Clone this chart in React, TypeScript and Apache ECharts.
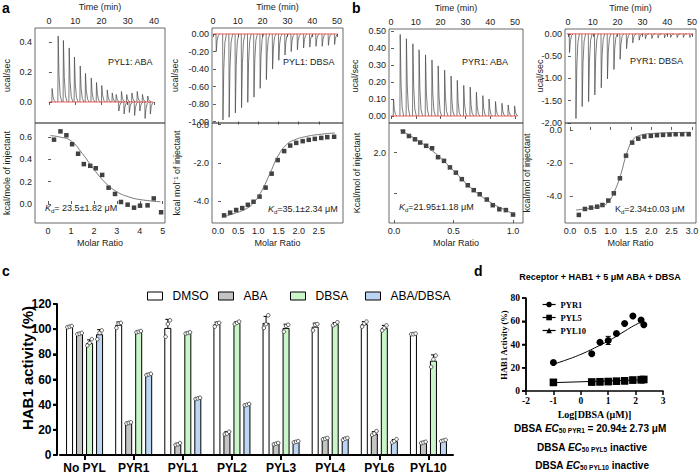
import React, { useEffect, useRef } from "react";
import * as echarts from "echarts";

const SANS = "'Liberation Sans', Arial, Helvetica, sans-serif";
const SERIF = "'Liberation Serif', 'Times New Roman', serif";

// ===== Panel a, PYL1 + ABA =====
const aAbaInjTime = [1.1, 3.4, 5.4, 7.6, 9.6, 11.8, 13.8, 16.0, 18.0, 20.0, 22.1, 24.0, 25.5, 26.5, 27.5, 28.5, 29.5, 30.5, 31.5, 32.5, 33.5, 34.5, 35.5, 36.5, 37.5, 38.5];
const aAbaPeak = [0.09, 0.44, 0.41, 0.36, 0.30, 0.24, 0.19, 0.16, 0.13, 0.11, 0.08, 0.06, 0.05, -0.06, 0.07, -0.08, 0.05, -0.07, 0.06, -0.09, 0.07, -0.06, 0.05, -0.11, 0.04, -0.08];
const aAbaRatio = [0.26, 0.54, 0.80, 1.05, 1.31, 1.56, 1.84, 2.08, 2.36, 2.64, 2.92, 3.18, 3.47, 3.75, 4.01, 4.34, 4.61, 4.93];
const aAbaHeat = [0.576, 0.65, 0.615, 0.535, 0.45, 0.357, 0.342, 0.32, 0.26, 0.146, 0.09, 0.018, -0.006, -0.033, -0.015, -0.012, 0.05, -0.074];
const aAbaFitRatio = [0.1, 0.5, 1.0, 1.5, 2.0, 2.5, 3.0, 3.5, 4.0, 4.9];
const aAbaFitHeat = [0.612, 0.60, 0.565, 0.45, 0.31, 0.19, 0.11, 0.065, 0.04, 0.02];

// ===== Panel a, PYL1 + DBSA =====
const aDbsaInjTime = [1.2, 3.9, 6.4, 8.9, 11.4, 13.9, 16.4, 18.9, 21.4, 23.9, 26.4, 28.9, 31.4, 33.9, 36.4, 38.9, 41.4, 43.9, 46.4, 48.9];
const aDbsaPeak = [-0.20, -0.98, -0.95, -0.90, -0.84, -0.78, -0.72, -0.62, -0.52, -0.40, -0.30, -0.24, -0.20, -0.18, -0.16, -0.15, -0.14, -0.14, -0.13, -0.12];
const aDbsaRatio = [0.15, 0.30, 0.45, 0.60, 0.74, 0.88, 1.03, 1.18, 1.33, 1.48, 1.64, 1.79, 1.94, 2.10, 2.25, 2.40, 2.56, 2.71, 2.88];
const aDbsaHeat = [-4.75, -4.61, -4.47, -4.37, -4.20, -4.04, -3.77, -3.30, -2.57, -1.86, -1.39, -1.10, -0.96, -0.87, -0.80, -0.75, -0.70, -0.66, -0.64];
const aDbsaFitRatio = [0.1, 0.4, 0.7, 0.9, 1.1, 1.3, 1.5, 1.7, 1.9, 2.2, 2.5, 2.9];
const aDbsaFitHeat = [-4.85, -4.65, -4.4, -4.05, -3.4, -2.5, -1.6, -1.05, -0.8, -0.62, -0.52, -0.44];

// ===== Panel b, PYR1 + ABA =====
const bAbaInjTime = [0.9, 3.6, 6.1, 8.7, 11.2, 13.8, 16.4, 18.9, 21.5, 24.1, 26.6, 29.2, 31.8, 34.3, 36.9, 39.4, 42.0, 44.6, 47.1, 49.7];
const bAbaPeak = [0.10, 0.48, 0.455, 0.425, 0.39, 0.36, 0.33, 0.295, 0.27, 0.235, 0.21, 0.18, 0.17, 0.14, 0.12, 0.10, 0.085, 0.075, 0.065, 0.06];
const bAbaRatio = [0.076, 0.126, 0.176, 0.22, 0.27, 0.32, 0.37, 0.42, 0.47, 0.52, 0.57, 0.62, 0.67, 0.72, 0.78, 0.83, 0.885, 0.94, 1.0];
const bAbaHeat = [2.52, 2.41, 2.33, 2.25, 2.17, 2.11, 1.89, 1.80, 1.64, 1.51, 1.35, 1.20, 1.08, 0.98, 0.85, 0.71, 0.61, 0.59, 0.48];
const bAbaFitRatio = [0.05, 0.2, 0.35, 0.5, 0.65, 0.8, 0.95, 1.02];
const bAbaFitHeat = [2.56, 2.30, 1.98, 1.56, 1.13, 0.80, 0.57, 0.48];

// ===== Panel b, PYR1 + DBSA =====
const bDbsaInjTime = [0.5, 3.1, 5.6, 8.2, 10.7, 13.3, 15.8, 18.4, 20.9, 23.5, 26.0, 28.6, 31.1, 33.7, 36.2, 38.8, 41.3, 43.9, 46.4, 49.0];
const bDbsaPeak = [-0.42, -1.90, -1.63, -1.52, -1.37, -1.21, -1.01, -0.80, -0.57, -0.33, -0.20, -0.14, -0.11, -0.10, -0.09, -0.09, -0.08, -0.08, -0.08, -0.08];
const bDbsaRatio = [0.22, 0.37, 0.52, 0.67, 0.80, 0.945, 1.08, 1.23, 1.38, 1.53, 1.68, 1.83, 1.99, 2.14, 2.29, 2.45, 2.60, 2.76, 2.92];
const bDbsaHeat = [-5.15, -4.79, -4.71, -4.65, -4.55, -4.28, -3.84, -2.93, -1.56, -0.77, -0.53, -0.40, -0.36, -0.32, -0.30, -0.28, -0.26, -0.26, -0.26];
const bDbsaFitRatio = [0.15, 0.5, 0.8, 0.95, 1.1, 1.25, 1.4, 1.55, 1.7, 2.0, 2.5, 2.95];
const bDbsaFitHeat = [-4.85, -4.75, -4.6, -4.35, -3.7, -2.7, -1.4, -0.6, -0.35, -0.22, -0.17, -0.14];

// ===== Panel c =====
const hab1Categories = ["No PYL", "PYR1", "PYL1", "PYL2", "PYL3", "PYL4", "PYL6", "PYL10"];
const treatmentNames = ["DMSO", "ABA", "DBSA", "ABA/DBSA"];
const hab1Ticks = [0, 20, 40, 60, 80, 100, 120];
const dmsoMean = [102, 103.5, 101, 104, 105, 102, 104, 96];
const abaMean = [96.5, 25.5, 8.5, 17.5, 9, 13, 17, 10];
const dbsaMean = [89, 98, 97, 105, 101, 104, 101, 75];
const comboMean = [96, 64, 45, 40, 10.5, 13, 11, 11.5];
const dmsoReps = [[101.5, 102, 102.5], [101, 104.5, 105], [94, 104, 107], [102, 104.5, 105], [101, 104, 111], [99, 103.5, 104], [102, 104.5, 106], [96, 96, 96.5]];
const abaReps = [[96, 96.5, 97], [25, 25.5, 26], [8, 8.5, 9.5], [16.5, 17, 18.5], [8.5, 9, 9.5], [12.5, 13, 13.5], [16, 17, 19], [9.5, 10, 10.5]];
const dbsaReps = [[87, 89, 92], [97.5, 98, 98.5], [96.5, 97, 97.5], [104, 105, 106], [98, 102.5, 103.5], [103, 104, 105.5], [99, 101, 103], [70, 76, 79]];
const comboReps = [[92, 97, 99], [63.5, 64, 64.5], [44.5, 45, 45.5], [39.5, 40, 40.5], [10, 10.5, 11], [12, 13, 13.5], [10, 11, 12.5], [11, 11.5, 12]];
const treatmentColors = ["#ffffff", "#c4c4c4", "#c9f5c9", "#bcd5f2"];

// ===== Panel d =====
const dLogTicks = [-2, -1, 0, 1, 2, 3];
const dActivityTicks = [0, 20, 40, 60, 80];
const dLogDbsa = [-1, 0.4, 0.7, 1.0, 1.3, 1.6, 1.9, 2.2, 2.3];
const pyr1Activity = [24.5, 32, 42, 43.5, 49.5, 58, 64.5, 61, 57];
const pyr1Sd = [0.8, 0.8, 1.0, 3.5, 1.0, 1.0, 1.0, 1.2, 0.8];
const pyl5Activity = [7.5, 7.8, 8, 8.2, 8.5, 8.8, 9.5, 9.8, 10];
const pyl10Activity = [7.2, 7.5, 7.8, 7.9, 8.2, 8.5, 9.2, 9.5, 9.7];
const pyr1FitLog = [-1, -0.5, 0, 0.5, 1.0, 1.5, 2.0, 2.3];
const pyr1FitActivity = [23, 27, 31.5, 37, 43, 50, 57, 60];
const pyl5FitLog = [-1, 2.3];
const pyl5FitActivity = [7.2, 9.6];

// grid boxes of panels c and d
const C_BOX = { left: 60, top: 304, width: 393, height: 151, min: 0, max: 120, offset: 3 };
const D_BOX = { left: 526, top: 298, width: 137, height: 93, min: 0, max: 80, offset: 0 };

const zip = (a: number[], b: number[]) => a.map((v, i) => [v, b[i]]);
const sdOf = (arr: number[]) => {
  const m = arr.reduce((s, v) => s + v, 0) / arr.length;
  return Math.sqrt(arr.reduce((s, v) => s + (v - m) * (v - m), 0) / (arr.length - 1));
};

function itcAxis(gridIndex: number, min: number, max: number, ticks: number[], fmt: (v: number) => string, position: string, extra: any = {}) {
  return {
    type: "value", gridIndex, min, max, position,
    axisLine: { show: false },
    axisTick: { show: true, inside: true, length: 3, customValues: ticks, lineStyle: { color: "#333", width: 0.8 } },
    axisLabel: { show: true, customValues: ticks, formatter: fmt, fontSize: 9, color: "#222", fontFamily: SANS, margin: 3 },
    splitLine: { show: false },
    nameMoveOverlap: false,
    nameTextStyle: { fontSize: 9, fontFamily: SANS, color: "#222" },
    ...extra,
  };
}

function addItc(p: any, opt: any) {
  const gU = opt.grid.length;
  const gL = gU + 1;
  const gridStyle = { show: true, borderColor: "#444", borderWidth: 0.8, backgroundColor: "transparent", outerBoundsMode: "none", containLabel: false };
  opt.grid.push({ left: p.left, top: p.top, width: p.width, height: p.split - p.top, ...gridStyle });
  opt.grid.push({ left: p.left, top: p.split, width: p.width, height: p.bottom - p.split, ...gridStyle });
  opt.xAxis.push(itcAxis(gU, p.time[0], p.time[1], p.timeTicks, (v) => String(v), "top", { name: "Time (min)", nameLocation: "middle", nameGap: 17 }));
  opt.xAxis.push(itcAxis(gL, p.ratio[0], p.ratio[1], p.ratioTicks, (v) => v.toFixed(p.ratioDec), "bottom", { name: "Molar Ratio", nameLocation: "middle", nameGap: 15 }));
  opt.yAxis.push(itcAxis(gU, p.power[0], p.power[1], p.powerTicks, (v) => v.toFixed(p.powerDec), "left", { name: "ucal/sec", nameLocation: "middle", nameGap: p.powerGap }));
  opt.yAxis.push(itcAxis(gL, p.heat[0], p.heat[1], p.heatTicks, p.heatFmt || ((v: number) => v.toFixed(p.heatDec)), "left", { name: p.heatName, nameLocation: "middle", nameGap: p.heatGap }));
  opt.series.push({
    type: "custom", xAxisIndex: gU, yAxisIndex: gU, clip: true, silent: true, z: 2,
    data: zip(p.inj, p.peak),
    renderItem: (params: any, api: any) => {
      const t = api.value(0);
      const h = api.value(1);
      const pts = [[t, 0], [t + 0.12, h], [t + 0.45, h * 0.4], [t + 0.9, h * 0.1], [t + 1.5, 0]].map((q) => api.coord(q));
      return { type: "polyline", shape: { points: pts }, style: { stroke: "#444", fill: "none", lineWidth: 0.7 } };
    },
  });
  opt.series.push({
    type: "line", xAxisIndex: gU, yAxisIndex: gU, symbol: "none", silent: true, z: 3,
    data: [[p.inj[0] - 1, 0], [p.inj[p.inj.length - 1] + 1.2, 0]],
    lineStyle: { color: "#e8322e", width: 0.8 },
  });
  opt.series.push({
    type: "line", xAxisIndex: gL, yAxisIndex: gL, symbol: "none", smooth: true, silent: true,
    data: zip(p.fit[0], p.fit[1]), lineStyle: { color: "#555", width: 0.8 },
  });
  opt.series.push({
    type: "scatter", xAxisIndex: gL, yAxisIndex: gL, symbol: "rect", symbolSize: 4.5, silent: true,
    data: zip(p.pts[0], p.pts[1]), itemStyle: { color: "#111" },
  });
}

function barErrRender(offset: number) {
  return (params: any, api: any) => {
    const i = api.value(0);
    const m = api.value(1);
    const sd = api.value(2);
    const base = api.coord([i, m]);
    const x = base[0] + offset;
    const yTop = api.coord([i, m + sd])[1];
    const children: any[] = [
      { type: "line", shape: { x1: x, y1: base[1], x2: x, y2: yTop }, style: { stroke: "#000", lineWidth: 1 } },
      { type: "line", shape: { x1: x - 2.5, y1: yTop, x2: x + 2.5, y2: yTop }, style: { stroke: "#000", lineWidth: 1 } },
    ];
    [3, 4, 5].forEach((k, j) => {
      const y = api.coord([i, api.value(k)])[1];
      children.push({ type: "circle", shape: { cx: x + (j - 1) * 2.2, cy: y, r: 1.8 }, style: { fill: "#fff", stroke: "#333", lineWidth: 0.8 } });
    });
    return { type: "group", children };
  };
}

function buildOption() {
  const opt: any = { animation: false, backgroundColor: "#fff", grid: [], xAxis: [], yAxis: [], series: [], legend: [], graphic: [] };

  // ===== Panel c (grid 0) =====
  const gc = opt.grid.length;
  opt.grid.push({ left: C_BOX.left, top: C_BOX.top, width: C_BOX.width, height: C_BOX.height, outerBoundsMode: "none", containLabel: false });
  opt.xAxis.push({
    type: "category", gridIndex: gc, data: hab1Categories, position: "bottom",
    axisLine: { show: true, lineStyle: { color: "#000", width: 2 } },
    axisTick: { show: true, alignWithLabel: true, length: 5, lineStyle: { color: "#000", width: 2 } },
    axisLabel: { show: true, interval: 0, fontSize: 12, fontWeight: "bold", color: "#000", fontFamily: SANS, margin: 7 },
    splitLine: { show: false },
  });
  opt.yAxis.push({
    type: "value", gridIndex: gc, min: C_BOX.min, max: C_BOX.max, offset: C_BOX.offset, position: "left",
    axisLine: { show: true, lineStyle: { color: "#000", width: 2 } },
    axisTick: { show: true, length: 4, customValues: hab1Ticks, lineStyle: { color: "#000", width: 2 } },
    axisLabel: { show: false },
    splitLine: { show: false },
  });
  const means = [dmsoMean, abaMean, dbsaMean, comboMean];
  const reps = [dmsoReps, abaReps, dbsaReps, comboReps];
  treatmentNames.forEach((name, k) => {
    opt.series.push({
      type: "bar", name, xAxisIndex: gc, yAxisIndex: gc, barWidth: 7, barGap: "43%",
      data: means[k], itemStyle: { color: treatmentColors[k], borderColor: "#000", borderWidth: 1 }, silent: true,
    });
  });
  treatmentNames.forEach((name, k) => {
    opt.series.push({
      type: "custom", xAxisIndex: gc, yAxisIndex: gc, silent: true, z: 5,
      encode: { x: 0, y: 1 },
      data: hab1Categories.map((_, i) => [i, means[k][i], sdOf(reps[k][i]), ...reps[k][i]]),
      renderItem: barErrRender(-15 + 10 * k),
    });
  });
  const legendLefts = [142, 213, 285, 360];
  treatmentNames.forEach((name, k) => {
    opt.legend.push({
      data: [name], left: legendLefts[k], top: 285, icon: "rect", itemWidth: 15, itemHeight: 8,
      itemStyle: { borderColor: "#000", borderWidth: 1 },
      textStyle: { fontSize: 12, color: "#000", fontFamily: SANS, padding: [0, 0, 0, 5] },
      selectedMode: false,
    });
  });

  // ===== Panel d (grid 1) =====
  const gd = opt.grid.length;
  opt.grid.push({ left: D_BOX.left, top: D_BOX.top, width: D_BOX.width, height: D_BOX.height, outerBoundsMode: "none", containLabel: false });
  opt.xAxis.push({
    type: "value", gridIndex: gd, min: -2, max: 3, position: "bottom",
    axisLine: { show: true, onZero: false, lineStyle: { color: "#000", width: 1.5 } },
    axisTick: { show: true, length: 4, customValues: dLogTicks, lineStyle: { color: "#000", width: 1.5 } },
    axisLabel: { show: true, customValues: dLogTicks, formatter: (v: number) => String(v), fontSize: 9.5, fontWeight: "bold", color: "#000", fontFamily: SERIF, margin: 5 },
    splitLine: { show: false },
    name: "Log[DBSA (μM)]", nameLocation: "middle", nameGap: 18, nameMoveOverlap: false,
    nameTextStyle: { fontSize: 10, fontWeight: "bold", color: "#000", fontFamily: SERIF },
  });
  opt.yAxis.push({
    type: "value", gridIndex: gd, min: D_BOX.min, max: D_BOX.max, position: "left",
    axisLine: { show: true, onZero: false, lineStyle: { color: "#000", width: 1.5 } },
    axisTick: { show: true, length: 4, customValues: dActivityTicks, lineStyle: { color: "#000", width: 1.5 } },
    axisLabel: { show: false },
    splitLine: { show: false },
  });
  opt.series.push({
    type: "line", xAxisIndex: gd, yAxisIndex: gd, symbol: "none", smooth: true, silent: true,
    data: zip(pyr1FitLog, pyr1FitActivity), lineStyle: { color: "#000", width: 1 },
  });
  opt.series.push({
    type: "line", xAxisIndex: gd, yAxisIndex: gd, symbol: "none", silent: true,
    data: zip(pyl5FitLog, pyl5FitActivity), lineStyle: { color: "#000", width: 1 },
  });
  opt.series.push({
    type: "custom", xAxisIndex: gd, yAxisIndex: gd, silent: true, z: 4,
    data: dLogDbsa.map((x, i) => [x, pyr1Activity[i], pyr1Sd[i]]),
    renderItem: (params: any, api: any) => {
      const x = api.value(0), m = api.value(1), s = api.value(2);
      const a = api.coord([x, m + s]);
      const b = api.coord([x, m - s]);
      return {
        type: "group", children: [
          { type: "line", shape: { x1: a[0], y1: a[1], x2: b[0], y2: b[1] }, style: { stroke: "#000", lineWidth: 1 } },
          { type: "line", shape: { x1: a[0] - 2.5, y1: a[1], x2: a[0] + 2.5, y2: a[1] }, style: { stroke: "#000", lineWidth: 1 } },
          { type: "line", shape: { x1: b[0] - 2.5, y1: b[1], x2: b[0] + 2.5, y2: b[1] }, style: { stroke: "#000", lineWidth: 1 } },
        ],
      };
    },
  });
  const pointSeries = [
    { name: "PYR1", data: pyr1Activity, symbol: "circle", size: 7 },
    { name: "PYL5", data: pyl5Activity, symbol: "rect", size: 7.5 },
    { name: "PYL10", data: pyl10Activity, symbol: "triangle", size: 7 },
  ];
  pointSeries.slice().reverse().forEach((s) => {
    opt.series.push({
      type: "line", name: s.name, xAxisIndex: gd, yAxisIndex: gd, symbol: s.symbol, symbolSize: s.size,
      showSymbol: true, silent: true, z: 5,
      data: zip(dLogDbsa, s.data), itemStyle: { color: "#000" }, lineStyle: { opacity: 0, width: 0 },
    });
  });
  opt.legend.push({
    data: ["PYR1", "PYL5", "PYL10"], orient: "vertical", left: 537, top: 295,
    itemWidth: 13, itemHeight: 7, itemGap: 4, selectedMode: false,
    lineStyle: { color: "#000", width: 1.2, opacity: 1 },
    itemStyle: { color: "#000" },
    textStyle: { fontSize: 8.5, fontWeight: "bold", color: "#000", fontFamily: SERIF },
  });

  // ===== ITC panels (grids 2..9) =====
  addItc({
    left: 35, width: 130, top: 28, split: 123, bottom: 223,
    time: [-5.3, 44.2], timeTicks: [0, 10, 20, 30, 40],
    power: [-0.14, 0.493], powerTicks: [0, 0.2, 0.4], powerDec: 1, powerGap: 23.5,
    ratio: [-0.57, 5.1], ratioTicks: [0, 1, 2, 3, 4, 5], ratioDec: 0,
    heat: [-0.17, 0.725], heatTicks: [0, 0.2, 0.4, 0.6], heatDec: 1, heatName: "kcal/mole of injectant", heatGap: 23.5,
    inj: aAbaInjTime, peak: aAbaPeak, pts: [aAbaRatio, aAbaHeat], fit: [aAbaFitRatio, aAbaFitHeat],
  }, opt);
  addItc({
    left: 212, width: 131, top: 28, split: 123, bottom: 223,
    time: [-0.4, 52.4], timeTicks: [0, 10, 20, 30, 40, 50],
    power: [-1.015, 0.068], powerTicks: [0, -0.2, -0.4, -0.6, -0.8, -1.0], powerDec: 2, powerGap: 32.5,
    ratio: [-0.15, 3.1], ratioTicks: [0, 0.5, 1, 1.5, 2, 2.5], ratioDec: 1,
    heat: [-5.15, 0.08], heatTicks: [0, -2, -4], heatDec: 1, heatName: "kcal mol⁻¹ of injectant", heatGap: 30.5,
    inj: aDbsaInjTime, peak: aDbsaPeak, pts: [aDbsaRatio, aDbsaHeat], fit: [aDbsaFitRatio, aDbsaFitHeat],
  }, opt);
  addItc({
    left: 389, width: 134, top: 29, split: 123, bottom: 223,
    time: [-0.8, 53.2], timeTicks: [0, 10, 20, 30, 40, 50],
    power: [-0.041, 0.512], powerTicks: [0, 0.1, 0.2, 0.3, 0.4, 0.5], powerDec: 2, powerGap: 29.5,
    ratio: [-0.042, 1.084], ratioTicks: [0, 0.5, 1], ratioDec: 1,
    heat: [0.273, 2.73], heatTicks: [1, 2], heatDec: 1, heatFmt: (v: number) => (v === 2 ? "2.0" : ""), heatName: "Kcal/mol of injectant", heatGap: 27.5,
    inj: bAbaInjTime, peak: bAbaPeak, pts: [bAbaRatio, bAbaHeat], fit: [bAbaFitRatio, bAbaFitHeat],
  }, opt);
  addItc({
    left: 565, width: 131, top: 29, split: 123, bottom: 223,
    time: [-1.2, 51.6], timeTicks: [0, 10, 20, 30, 40, 50],
    power: [-2.0, 0.11], powerTicks: [0, -0.5, -1.0, -1.5, -2.0], powerDec: 2, powerGap: 20.5,
    ratio: [-0.12, 3.1], ratioTicks: [0, 0.5, 1, 1.5, 2, 2.5, 3], ratioDec: 1,
    heat: [-5.64, 0.42], heatTicks: [0, -2, -4], heatDec: 1, heatName: "kcal/mol of injectant", heatGap: 33.5,
    inj: bDbsaInjTime, peak: bDbsaPeak, pts: [bDbsaRatio, bDbsaHeat], fit: [bDbsaFitRatio, bDbsaFitHeat],
  }, opt);

  // ===== Graphic texts =====
  const letter = (t: string, x: number, y: number) => ({
    type: "text", x, y, style: { text: t, fontSize: 14, fontWeight: "bold", fill: "#000", fontFamily: SANS, verticalAlign: "middle" },
  });
  const label = (t: string, x: number, y: number) => ({
    type: "text", x, y, z: 10, style: { text: t, fontSize: 9, fill: "#222", fontFamily: SANS, verticalAlign: "middle" },
  });
  const kdRich = {
    i: { fontSize: 9, fontStyle: "italic", fontFamily: SANS, fill: "#222", lineHeight: 11, verticalAlign: "middle" },
    k: { fontSize: 9, fontFamily: SANS, fill: "#222", lineHeight: 11, verticalAlign: "middle" },
    s: { fontSize: 6, fontFamily: SANS, fill: "#222", lineHeight: 5, verticalAlign: "bottom" },
    n: { fontSize: 9, fontFamily: SANS, fill: "#222", lineHeight: 11, verticalAlign: "middle" },
  };
  const kd = (t: string, x: number, y: number) => ({
    type: "text", x, y, z: 10, style: { text: t, rich: kdRich, verticalAlign: "middle" },
  });
  const ecRich = {
    n: { fontSize: 10, fontWeight: "bold", fontFamily: SANS, fill: "#000", lineHeight: 12, verticalAlign: "middle" },
    i: { fontSize: 10, fontWeight: "bold", fontStyle: "italic", fontFamily: SANS, fill: "#000", lineHeight: 12, verticalAlign: "middle" },
    s: { fontSize: 6.5, fontWeight: "bold", fontFamily: SANS, fill: "#000", lineHeight: 6, verticalAlign: "bottom" },
  };
  const ec = (t: string, x: number, y: number) => ({
    type: "text", x, y, style: { text: t, rich: ecRich, align: "center", verticalAlign: "middle" },
  });
  opt.graphic = [
    letter("a", 2, 8), letter("b", 352, 8), letter("c", 2, 271), letter("d", 474, 271),
    label("PYL1: ABA", 108, 62), label("PYL1: DBSA", 283, 62), label("PYR1: ABA", 462, 62), label("PYR1: DBSA", 630, 61),
    kd("{i|K}{s|d}{n|= 23.5±1.82 μM}", 45, 208),
    kd("{i|K}{s|d}{n|=35.1±2.34 μM}", 268, 209),
    kd("{i|K}{s|d}{n|=21.95±1.18 μM}", 399, 207),
    kd("{k|K}{s|d}{n|=2.34±0.03 μM}", 615, 209),
    {
      type: "text", x: 600, y: 277,
      style: { text: "Receptor + HAB1 + 5 μM ABA + DBSA", fontSize: 9, fontWeight: "bold", fill: "#000", fontFamily: SANS, align: "center", verticalAlign: "middle" },
    },
    {
      type: "text", x: 27, y: 368, rotation: Math.PI / 2,
      style: { text: "HAB1 activity (%)", fontSize: 15, fontWeight: "bold", fill: "#000", fontFamily: SANS, align: "center", verticalAlign: "middle" },
    },
    {
      type: "text", x: 504, y: 345, rotation: Math.PI / 2,
      style: { text: "HAB1 Activity (%)", fontSize: 8.5, fontWeight: "bold", fill: "#000", fontFamily: SERIF, align: "center", verticalAlign: "middle" },
    },
    ec("{n|DBSA }{i|EC}{s|50 PYR1}{n| = 20.94± 2.73 μM}", 590, 428),
    ec("{n|DBSA }{i|EC}{s|50 PYL5}{n| inactive}", 592, 447),
    ec("{n|DBSA }{i|EC}{s|50 PYL10}{n| inactive}", 592, 465),
  ];
  return opt;
}

// y axis (line, ticks, tick labels) of panels c and d, placed through the y axis' scale
function yAxisDecor(chart: any, axisIndex: number, box: any, ticks: number[], tickLen: number, margin: number, lineW: number, font: any) {
  const out: any[] = [];
  const ax = box.left - box.offset;
  const toY = (v: number) => {
    let y: any = NaN;
    try {
      y = chart.convertToPixel({ yAxisIndex: axisIndex }, v);
    } catch (e) {
      y = NaN;
    }
    if (typeof y !== "number" || !isFinite(y)) {
      y = box.top + (box.height * (box.max - v)) / (box.max - box.min);
    }
    return y;
  };
  out.push({ type: "line", silent: true, z: 20, shape: { x1: ax, y1: toY(box.max), x2: ax, y2: toY(box.min) }, style: { stroke: "#000", lineWidth: lineW } });
  ticks.forEach((v) => {
    const y = toY(v);
    out.push({ type: "line", silent: true, z: 20, shape: { x1: ax - tickLen, y1: y, x2: ax, y2: y }, style: { stroke: "#000", lineWidth: lineW } });
    out.push({ type: "text", silent: true, z: 20, x: ax - tickLen - margin, y, style: { text: String(v), align: "right", verticalAlign: "middle", fill: "#000", ...font } });
  });
  return out;
}

export default function App() {
  const ref = useRef<HTMLDivElement>(null);
  useEffect(() => {
    document.body.style.margin = "0";
    if (!ref.current) return;
    const chart = echarts.init(ref.current, null, { renderer: "svg", width: 699, height: 474 });
    const option = buildOption();
    chart.setOption(option);
    let extra: any[] = [];
    try {
      extra = [
        ...yAxisDecor(chart, 0, C_BOX, hab1Ticks, 4, 1.5, 2, { fontSize: 12, fontWeight: "bold", fontFamily: SANS }),
        ...yAxisDecor(chart, 1, D_BOX, dActivityTicks, 4, 2, 1.5, { fontSize: 9.5, fontWeight: "bold", fontFamily: SERIF }),
      ];
    } catch (e) {
      extra = [];
    }
    if (extra.length) chart.setOption({ graphic: [...option.graphic, ...extra] });
    return () => chart.dispose();
  }, []);
  return <div ref={ref} style={{ position: "fixed", left: 0, top: 0, width: 699, height: 474, background: "#fff" }} />;
}
